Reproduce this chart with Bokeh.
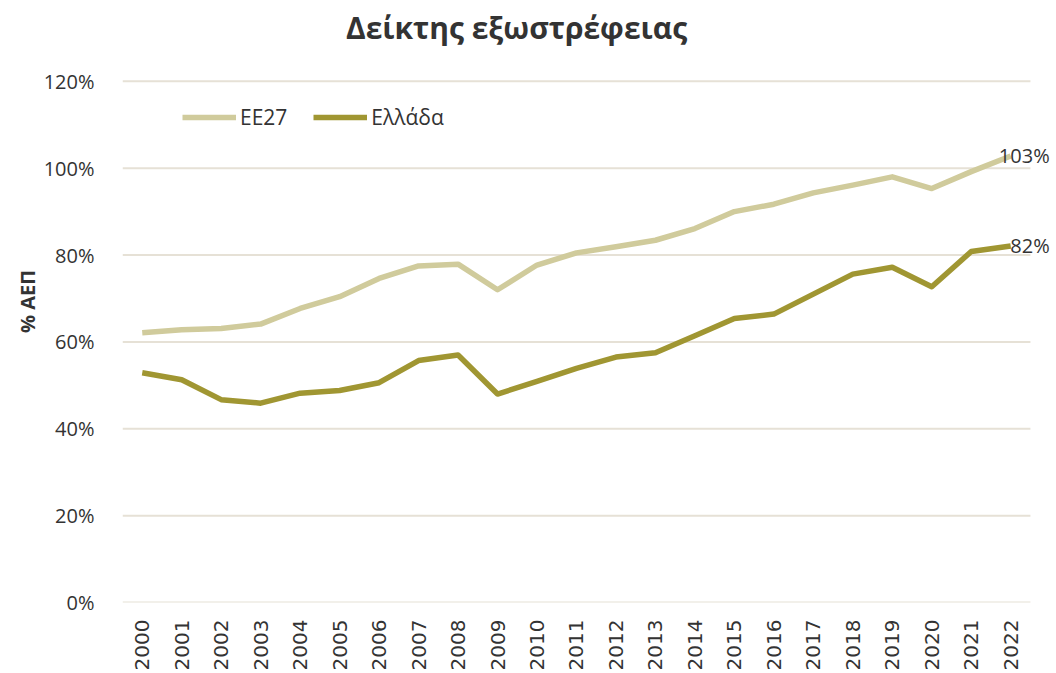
import math
from bokeh.plotting import figure
from bokeh.models import Legend, LegendItem, Label, FixedTicker, CustomJSTickFormatter
from bokeh.embed import file_html
from bokeh.resources import INLINE

years = list(range(2000, 2023))
eu27 = [62.1, 62.8, 63.1, 64.1, 67.7, 70.4, 74.6, 77.5, 77.9, 72.0, 77.7, 80.5,
        81.9, 83.4, 86.1, 90.0, 91.7, 94.3, 96.1, 98.0, 95.3, 99.2, 102.8]
greece = [52.9, 51.3, 46.7, 45.9, 48.2, 48.8, 50.6, 55.7, 57.0, 48.0, 50.9, 53.9,
          56.5, 57.5, 61.4, 65.4, 66.4, 71.0, 75.6, 77.2, 72.7, 80.8, 82.1]
series_names = ["ΕΕ27", "Ελλάδα"]
y_ticks = [0, 20, 40, 60, 80, 100, 120]
title_text = "Δείκτης εξωστρέφειας"
y_label = "% ΑΕΠ"

C_EU = "#D0CB9C"
C_GR = "#A09632"
GRID = "#E6E1D6"
TXT = "#333333"
FONT = "Open Sans"

x_lo, x_hi = years[0] - 0.5, years[-1] + 0.5

# frame spans the full top of the page; extra headroom above 120% holds the title
p = figure(width=1056, height=673, output_backend="svg", toolbar_location=None,
           x_range=(x_lo, x_hi + 0.66), y_range=(0, 138.6),
           min_border_left=122, min_border_right=0, min_border_top=0, min_border_bottom=70)
p.background_fill_color = "white"
p.border_fill_color = "white"
p.outline_line_color = None

# horizontal gridlines spanning only the category area
p.segment(x0=[x_lo] * len(y_ticks), x1=[x_hi] * len(y_ticks), y0=y_ticks, y1=y_ticks,
          line_color=GRID, line_width=2)

r1 = p.line(years, eu27, line_color=C_EU, line_width=5.5, line_join="round")
r2 = p.line(years, greece, line_color=C_GR, line_width=5.5, line_join="round")

# axes
p.xaxis.ticker = FixedTicker(ticks=years)
p.xaxis.major_label_orientation = math.pi / 2
p.xaxis.major_label_text_font = "DejaVu Sans"
p.xaxis.major_label_text_font_size = "20px"
p.xaxis.major_label_text_color = TXT
p.xaxis.axis_line_color = None
p.xaxis.major_tick_line_color = None
p.xaxis.minor_tick_line_color = None
p.xaxis.major_label_standoff = 11

p.yaxis.ticker = FixedTicker(ticks=y_ticks)
p.yaxis.formatter = CustomJSTickFormatter(code="return tick + '%';")
p.yaxis.major_label_text_font = FONT
p.yaxis.major_label_text_font_size = "20px"
p.yaxis.major_label_text_color = TXT
p.yaxis.axis_line_color = None
p.yaxis.major_tick_line_color = None
p.yaxis.minor_tick_line_color = None
p.yaxis.major_label_standoff = 22
p.yaxis.axis_label = y_label
p.yaxis.axis_label_text_font = FONT
p.yaxis.axis_label_text_font_size = "20px"
p.yaxis.axis_label_text_font_style = "bold"
p.yaxis.axis_label_text_color = TXT
p.yaxis.axis_label_standoff = 0

p.xgrid.grid_line_color = None
p.ygrid.grid_line_color = None

legend = Legend(items=[LegendItem(label=series_names[0], renderers=[r1]),
                       LegendItem(label=series_names[1], renderers=[r2])],
                location=(60, 471), orientation="horizontal",
                glyph_width=54, glyph_height=20, label_height=20,
                label_standoff=4, spacing=26, padding=0, margin=0,
                background_fill_alpha=0, border_line_color=None,
                label_text_font=FONT, label_text_font_size="21px", label_text_color=TXT)
p.add_layout(legend, "center")

# chart title
p.add_layout(Label(x=394, y=575, x_units="screen", y_units="screen", text=title_text,
                   text_align="center", text_baseline="middle",
                   text_font=FONT, text_font_size="30px", text_font_style="bold",
                   text_color=TXT))

for vals in (eu27, greece):
    p.add_layout(Label(x=years[-1], y=vals[-1], text=f"{round(vals[-1])}%",
                       x_offset=39, text_align="right", text_baseline="middle",
                       text_font=FONT, text_font_size="20px", text_color=TXT))

open("out.html", "w").write(file_html(p, INLINE))
